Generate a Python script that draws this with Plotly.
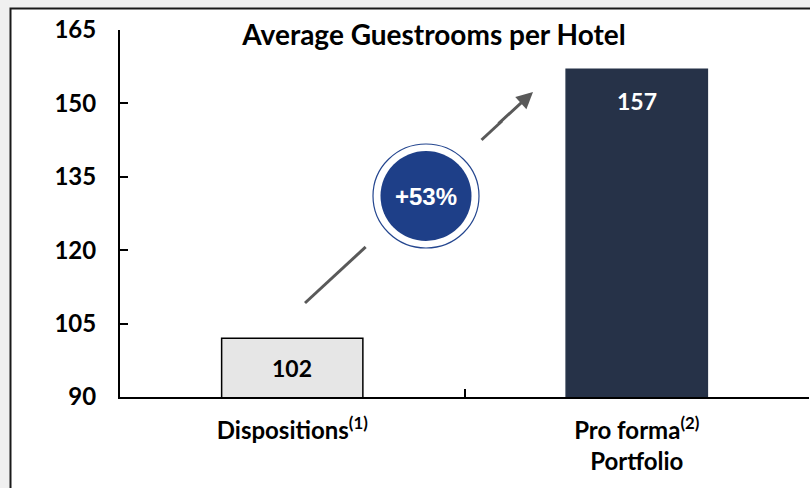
import plotly.graph_objects as go

categories = ["Dispositions<sup>(1)</sup>", "Pro forma<sup>(2)</sup><br>Portfolio"]
values = [102, 157]
value_labels = ["102", "157"]
bar_colors = ["#e6e6e6", "#263248"]
bar_line_colors = ["#000000", "#263248"]
label_colors = ["#000000", "#ffffff"]
y_ticks = [90, 105, 120, 135, 150, 165]
title_text = "Average Guestrooms per Hotel"
change_text = "+53%"

W, H = 810, 488
ML, MR, MT, MB = 120, 1, 30, 91
PW, PH = W - ML - MR, H - MT - MB


def px(x):
    return (x - ML) / PW


def py(y):
    return (H - MB - y) / PH


FONT = "Lato"

fig = go.Figure()
fig.add_trace(go.Bar(
    x=categories, y=values, width=0.41,
    marker=dict(color=bar_colors, line=dict(color=bar_line_colors, width=1.5)),
    hoverinfo="skip",
))

# value labels
fig.add_annotation(x=categories[0], y=(y_ticks[0] + values[0]) / 2, text="<b>%s</b>" % value_labels[0],
                   showarrow=False, font=dict(family=FONT, size=23, color=label_colors[0]))
fig.add_annotation(x=categories[1], y=values[1], yshift=-32, text="<b>%s</b>" % value_labels[1],
                   showarrow=False, font=dict(family=FONT, size=23, color=label_colors[1]))

shapes = []
# panel with border
shapes.append(dict(type="rect", xref="paper", yref="paper", layer="below",
                   x0=px(10.5), x1=1.5, y0=-1, y1=py(8.5),
                   fillcolor="white", line=dict(color="#1a1a1a", width=2)))
# arrow shaft
shapes.append(dict(type="line", xref="paper", yref="paper",
                   x0=px(305), y0=py(303), x1=px(502), y1=py(121),
                   line=dict(color="#595959", width=3)))
cx, cy = px(426), py(196)
# white mask around circle
shapes.append(dict(type="circle", xref="paper", yref="paper", xsizemode="pixel", ysizemode="pixel",
                   xanchor=cx, yanchor=cy, x0=-79, x1=79, y0=-79, y1=79,
                   fillcolor="white", line=dict(width=0)))
# outer ring
shapes.append(dict(type="circle", xref="paper", yref="paper", xsizemode="pixel", ysizemode="pixel",
                   xanchor=cx, yanchor=cy, x0=-53, x1=53, y0=-52, y1=52,
                   fillcolor="white", line=dict(color="#24468f", width=1.2)))
# filled circle
shapes.append(dict(type="circle", xref="paper", yref="paper", xsizemode="pixel", ysizemode="pixel",
                   xanchor=cx, yanchor=cy, x0=-45.5, x1=45.5, y0=-45, y1=45,
                   fillcolor="#1e3f88", line=dict(width=0)))

# arrow head
fig.add_annotation(xref="paper", yref="paper", x=px(533), y=py(92), ax=-36, ay=33,
                   text="", showarrow=True, arrowhead=2, arrowsize=1.1, arrowwidth=3,
                   arrowcolor="#595959", standoff=0)
fig.add_annotation(xref="paper", yref="paper", x=cx, y=cy, text="<b>%s</b>" % change_text,
                   showarrow=False, font=dict(family="Liberation Sans", size=24, color="white"))

fig.update_layout(
    width=W, height=H,
    margin=dict(l=ML, r=MR, t=MT, b=MB, pad=0),
    paper_bgcolor="#f0f0f0", plot_bgcolor="rgba(0,0,0,0)",
    shapes=shapes,
    showlegend=False,
    title=dict(text="<b>%s</b>" % title_text, x=px(434), xref="paper", xanchor="center",
               y=1 - 35 / H, yref="container", yanchor="middle",
               font=dict(family=FONT, size=28, color="#000000")),
    font=dict(family=FONT, color="#000000"),
)
fig.update_yaxes(range=[y_ticks[0], y_ticks[-1]], tickvals=y_ticks,
                 ticktext=["<b>%d</b>" % v for v in y_ticks],
                 showgrid=False, zeroline=False, showline=True, linecolor="#000000", linewidth=2,
                 ticks="inside", ticklen=8, tickwidth=2, tickcolor="#000000",
                 ticklabelstandoff=17, tickfont=dict(family=FONT, size=24, color="#000000"))
fig.update_xaxes(range=[-0.5, 1.5], tickvals=categories,
                 ticktext=["<b>%s</b>" % c.replace("<br>", "</b><br><b>") for c in categories],
                 tickson="boundaries",
                 showgrid=False, zeroline=False, showline=True, linecolor="#000000", linewidth=2,
                 ticks="inside", ticklen=8, tickwidth=2, tickcolor="#000000",
                 ticklabelstandoff=11, tickfont=dict(family=FONT, size=24, color="#000000"))

fig.write_html("out.html")
